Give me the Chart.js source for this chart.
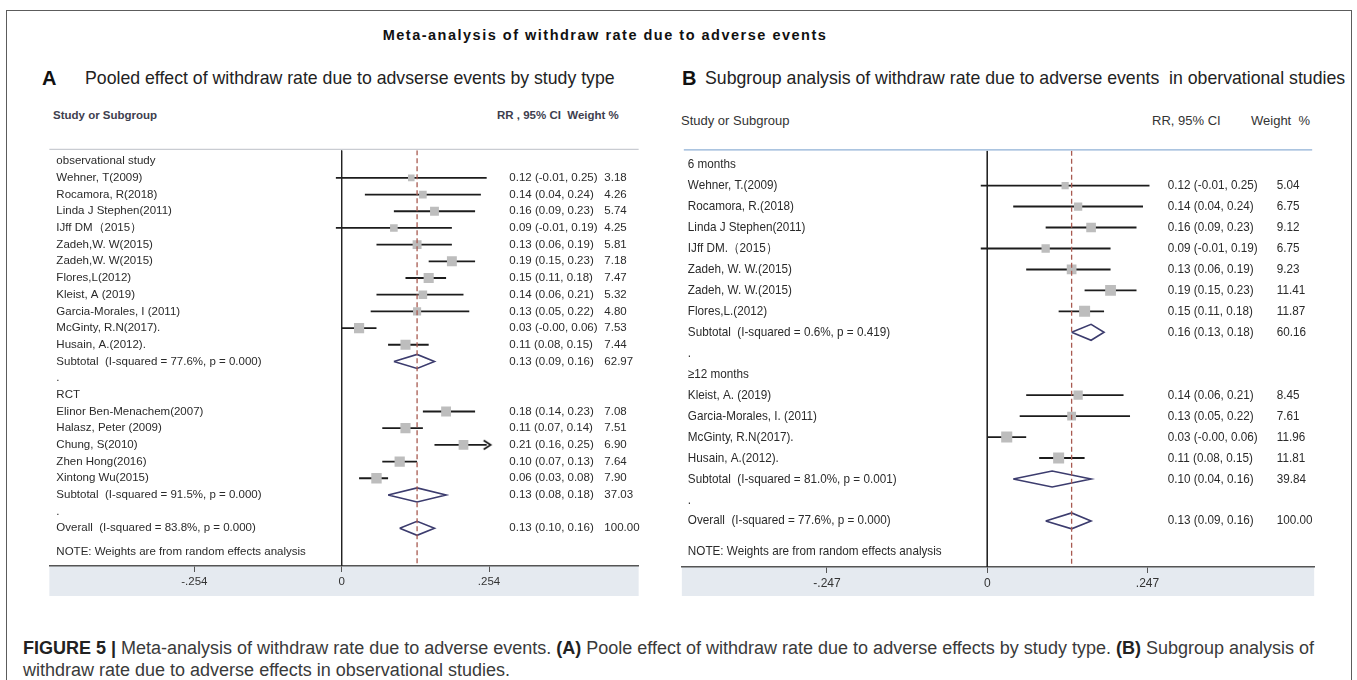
<!DOCTYPE html>
<html>
<head>
<meta charset="utf-8">
<script src="https://cdn.jsdelivr.net/npm/chart.js@4.4.1/dist/chart.umd.min.js"></script>
<style>
  body{margin:0;width:1357px;height:680px;overflow:hidden;background:#fff;position:relative;
       font-family:"Liberation Sans",Arial,Helvetica,sans-serif;color:#222}
  .abs{position:absolute;white-space:pre}
  #frame{position:absolute;left:6px;top:10px;width:1346px;height:720px;border:1.5px solid #5c5c5c;box-sizing:border-box}
  #title{left:0;width:1210px;top:26px;text-align:center;font-weight:bold;font-size:14.5px;line-height:18px;letter-spacing:1.5px;color:#111}
  .letter{font-weight:bold;font-size:20px;line-height:22px;top:67px;color:#111}
  .sub{font-size:17.7px;line-height:22px;top:67px;color:#222}
  .hdrA{font-weight:bold;font-size:11.5px;line-height:14px;top:108px;color:#3e3e4e}
  .hdrB{font-size:13px;line-height:16px;top:113px;color:#333}
  canvas{position:absolute}
  #caption{left:23px;top:637px;font-size:18px;line-height:22px;color:#3a3a3a}
  #caption b{color:#222}
</style>
</head>
<body>
<div id="frame"></div>
<div id="title" class="abs">Meta-analysis of withdraw rate due to adverse events</div>

<div class="abs letter" style="left:42px">A</div>
<div class="abs sub" style="left:85px">Pooled effect of withdraw rate due to advserse events by study type</div>
<div class="abs letter" style="left:682px">B</div>
<div class="abs sub" style="left:705px">Subgroup analysis of withdraw rate due to adverse events  in obervational studies</div>

<div class="abs hdrA" style="left:53px">Study or Subgroup</div>
<div class="abs hdrA" style="left:497px">RR , 95% CI  Weight %</div>
<div class="abs hdrB" style="left:681px">Study or Subgroup</div>
<div class="abs hdrB" style="left:1152px">RR, 95% CI</div>
<div class="abs hdrB" style="left:1251px">Weight  %</div>

<canvas id="panelA" width="604" height="453" style="left:42px;top:143px;width:604px;height:453px"></canvas>
<canvas id="panelB" width="648" height="453" style="left:674px;top:143px;width:648px;height:453px"></canvas>

<div id="caption" class="abs"><b>FIGURE 5 |</b> Meta-analysis of withdraw rate due to adverse events. <b>(A)</b> Poole effect of withdraw rate due to adverse effects by study type. <b>(B)</b> Subgroup analysis of
withdraw rate due to adverse effects in observational studies.</div>

<script>
// ---------- Panel A: pooled effect by study type ----------
const groupTitlesA = ["observational study", "RCT"];

const obsStudiesA = ["Wehner, T(2009)", "Rocamora, R(2018)", "Linda J Stephen(2011)", "IJff DM（2015）",
  "Zadeh,W. W(2015)", "Zadeh,W. W(2015)", "Flores,L(2012)", "Kleist, A (2019)",
  "Garcia-Morales, I (2011)", "McGinty, R.N(2017).", "Husain, A.(2012)."];
const obsRR_A     = [0.12, 0.14, 0.16, 0.09, 0.13, 0.19, 0.15, 0.14, 0.13, 0.03, 0.11];
const obsLow_A    = [-0.01, 0.04, 0.09, -0.01, 0.06, 0.15, 0.11, 0.06, 0.05, -0.00, 0.08];
const obsHigh_A   = [0.25, 0.24, 0.23, 0.19, 0.19, 0.23, 0.18, 0.21, 0.22, 0.06, 0.15];
const obsWeight_A = [3.18, 4.26, 5.74, 4.25, 5.81, 7.18, 7.47, 5.32, 4.80, 7.53, 7.44];

const rctStudiesA = ["Elinor Ben-Menachem(2007)", "Halasz, Peter (2009)", "Chung, S(2010)", "Zhen Hong(2016)", "Xintong Wu(2015)"];
const rctRR_A     = [0.18, 0.11, 0.21, 0.10, 0.06];
const rctLow_A    = [0.14, 0.07, 0.16, 0.07, 0.03];
const rctHigh_A   = [0.23, 0.14, 0.25, 0.13, 0.08];
const rctWeight_A = [7.08, 7.51, 6.90, 7.64, 7.90];
const rctCutHigh_A = [false, false, true, false, false];

const pooledLabelsA = ["Subtotal  (I-squared = 77.6%, p = 0.000)", "Subtotal  (I-squared = 91.5%, p = 0.000)",
  "Overall  (I-squared = 83.8%, p = 0.000)"];
const pooledRR_A     = [0.13, 0.13, 0.13];
const pooledLow_A    = [0.09, 0.08, 0.10];
const pooledHigh_A   = [0.16, 0.18, 0.16];
const pooledWeight_A = [62.97, 37.03, 100.00];

const xTicksA = [-0.254, 0, 0.254];

// ---------- Panel B: subgroups of observational studies ----------
const groupTitlesB = ["6 months", "≥12 months"];

const sixStudiesB = ["Wehner, T.(2009)", "Rocamora, R.(2018)", "Linda J Stephen(2011)", "IJff DM.（2015）",
  "Zadeh, W. W.(2015)", "Zadeh, W. W.(2015)", "Flores,L.(2012)"];
const sixRR_B     = [0.12, 0.14, 0.16, 0.09, 0.13, 0.19, 0.15];
const sixLow_B    = [-0.01, 0.04, 0.09, -0.01, 0.06, 0.15, 0.11];
const sixHigh_B   = [0.25, 0.24, 0.23, 0.19, 0.19, 0.23, 0.18];
const sixWeight_B = [5.04, 6.75, 9.12, 6.75, 9.23, 11.41, 11.87];

const longStudiesB = ["Kleist, A. (2019)", "Garcia-Morales, I. (2011)", "McGinty, R.N(2017).", "Husain, A.(2012)."];
const longRR_B     = [0.14, 0.13, 0.03, 0.11];
const longLow_B    = [0.06, 0.05, -0.00, 0.08];
const longHigh_B   = [0.21, 0.22, 0.06, 0.15];
const longWeight_B = [8.45, 7.61, 11.96, 11.81];

const pooledLabelsB = ["Subtotal  (I-squared = 0.6%, p = 0.419)", "Subtotal  (I-squared = 81.0%, p = 0.001)",
  "Overall  (I-squared = 77.6%, p = 0.000)"];
const pooledRR_B     = [0.16, 0.10, 0.13];
const pooledLow_B    = [0.13, 0.04, 0.09];
const pooledHigh_B   = [0.18, 0.16, 0.16];
const pooledWeight_B = [60.16, 39.84, 100.00];

const xTicksB = [-0.247, 0, 0.247];

const noteText = "NOTE: Weights are from random effects analysis";

// ---------- row assembly ----------
function studyRows(names, rr, lo, hi, w, cut) {
  return names.map((n, i) => ({ kind: "study", label: n, rr: rr[i], lo: lo[i], hi: hi[i], w: w[i], cut: cut ? cut[i] : false }));
}
function pooledRow(labels, rr, lo, hi, w, i) {
  return { kind: "pooled", label: labels[i], rr: rr[i], lo: lo[i], hi: hi[i], w: w[i] };
}

const rowsA = [
  { kind: "group", label: groupTitlesA[0] },
  ...studyRows(obsStudiesA, obsRR_A, obsLow_A, obsHigh_A, obsWeight_A),
  pooledRow(pooledLabelsA, pooledRR_A, pooledLow_A, pooledHigh_A, pooledWeight_A, 0),
  { kind: "dot", label: "." },
  { kind: "group", label: groupTitlesA[1] },
  ...studyRows(rctStudiesA, rctRR_A, rctLow_A, rctHigh_A, rctWeight_A, rctCutHigh_A),
  pooledRow(pooledLabelsA, pooledRR_A, pooledLow_A, pooledHigh_A, pooledWeight_A, 1),
  { kind: "dot", label: "." },
  pooledRow(pooledLabelsA, pooledRR_A, pooledLow_A, pooledHigh_A, pooledWeight_A, 2)
];

const rowsB = [
  { kind: "group", label: groupTitlesB[0] },
  ...studyRows(sixStudiesB, sixRR_B, sixLow_B, sixHigh_B, sixWeight_B),
  pooledRow(pooledLabelsB, pooledRR_B, pooledLow_B, pooledHigh_B, pooledWeight_B, 0),
  { kind: "dot", label: "." },
  { kind: "group", label: groupTitlesB[1] },
  ...studyRows(longStudiesB, longRR_B, longLow_B, longHigh_B, longWeight_B),
  pooledRow(pooledLabelsB, pooledRR_B, pooledLow_B, pooledHigh_B, pooledWeight_B, 1),
  { kind: "dot", label: "." },
  pooledRow(pooledLabelsB, pooledRR_B, pooledLow_B, pooledHigh_B, pooledWeight_B, 2)
];

// ---------- formatting helpers ----------
function f2(v) { return ((v < 0 || Object.is(v, -0)) ? "-" : "") + Math.abs(v).toFixed(2); }
function ciText(r) { return r.rr.toFixed(2) + " (" + f2(r.lo) + ", " + f2(r.hi) + ")"; }
function tickText(v) { return v === 0 ? "0" : (v < 0 ? "-" : "") + Math.abs(v).toFixed(3).replace(/^0/, ""); }

// open chevron used where a confidence interval runs past the axis
function chevron() {
  const c = document.createElement("canvas");
  c.width = 12; c.height = 12;
  const g = c.getContext("2d");
  g.strokeStyle = "#111"; g.lineWidth = 1.6;
  g.beginPath(); g.moveTo(3, 1.5); g.lineTo(10, 6); g.lineTo(3, 10.5); g.stroke();
  return c;
}

function drawText(ctx, s, x, y, sx) {
  ctx.save(); ctx.translate(x, y); ctx.scale(sx, 1); ctx.fillText(s, 0, 0); ctx.restore();
}

function buildForest(canvasId, rows, cfg) {
  const datasets = [];
  const overall = rows[rows.length - 1];

  // reference line at zero and dashed line at the overall estimate
  datasets.push({ data: [{ x: 0, y: cfg.yMin }, { x: 0, y: cfg.yMax }], showLine: true, pointRadius: 0,
    borderColor: "#222", borderWidth: 1 });
  datasets.push({ data: [{ x: overall.rr, y: cfg.yMin }, { x: overall.rr, y: cfg.yMax }], showLine: true, pointRadius: 0,
    borderColor: "#a85a50", borderWidth: 1.3, borderDash: [5, 3] });

  const sq = [], sqR = [], ctr = [], arrows = [];
  rows.forEach((r, i) => {
    if (r.kind === "study") {
      sq.push({ x: r.rr, y: i });
      sqR.push(cfg.sqK * Math.sqrt(r.w) / Math.SQRT2);
      ctr.push({ x: r.rr, y: i });
      if (r.cut) arrows.push({ x: r.hi, y: i });
    }
  });
  // weight boxes under the interval lines
  datasets.push({ data: sq, pointStyle: "rect", pointRadius: sqR, backgroundColor: "#bdbdbd", borderWidth: 0 });
  rows.forEach((r, i) => {
    if (r.kind === "study") {
      datasets.push({ data: [{ x: r.lo, y: i }, { x: r.hi, y: i }], showLine: true, pointRadius: 0,
        borderColor: "#1c1c1c", borderWidth: cfg.ciWidth });
    } else if (r.kind === "pooled") {
      const h = cfg.diamondH;
      datasets.push({ data: [{ x: r.lo, y: i }, { x: r.rr, y: i - h }, { x: r.hi, y: i }, { x: r.rr, y: i + h }, { x: r.lo, y: i }],
        showLine: true, pointRadius: 0, borderColor: "#3c3c6e", borderWidth: 1.6, borderJoinStyle: "miter", fill: false });
    }
  });
  datasets.push({ data: ctr, pointStyle: "rectRot", pointRadius: 2.8, backgroundColor: "#111", borderWidth: 0 });
  if (arrows.length) datasets.push({ data: arrows, pointStyle: chevron(), pointRadius: 6 });

  const bandAndHeader = {
    id: "bandAndHeader",
    beforeDraw(chart) {
      const { ctx, chartArea: a } = chart;
      ctx.save();
      ctx.fillStyle = "#e5eaf0";
      ctx.fillRect(a.left, a.bottom, a.right - a.left, chart.height - a.bottom);
      ctx.strokeStyle = cfg.headerLine; ctx.lineWidth = 1.2;
      ctx.beginPath(); ctx.moveTo(a.left + cfg.hdrInset, a.top - 1); ctx.lineTo(a.right - cfg.hdrInset, a.top - 1); ctx.stroke();
      ctx.restore();
    }
  };

  const columns = {
    id: "columns",
    afterDraw(chart) {
      const ctx = chart.ctx, ys = chart.scales.y, L = chart.chartArea.left;
      ctx.save();
      ctx.fillStyle = "#2a2a2a";
      ctx.textBaseline = "middle";
      ctx.textAlign = "left";
      ctx.font = cfg.font;
      rows.forEach((r, i) => {
        const py = ys.getPixelForValue(i);
        drawText(ctx, r.label, L + cfg.colLabel, py, cfg.sx);
        if (r.rr !== undefined) {
          drawText(ctx, ciText(r), L + cfg.colCI, py, cfg.sx);
          drawText(ctx, r.w.toFixed(2), L + cfg.colW, py, cfg.sx);
        }
      });
      drawText(ctx, noteText, L + cfg.colLabel, ys.getPixelForValue(cfg.noteRow), cfg.sx);
      ctx.restore();
    }
  };

  return new Chart(document.getElementById(canvasId), {
    type: "scatter",
    data: { datasets },
    options: {
      responsive: false, devicePixelRatio: 1, animation: false,
      layout: { padding: { top: 2, left: 0, right: 0, bottom: 0 } },
      plugins: { legend: { display: false }, tooltip: { enabled: false } },
      elements: { line: { tension: 0 } },
      scales: {
        x: {
          type: "linear", min: cfg.xMin, max: cfg.xMax,
          afterBuildTicks: s => { s.ticks = cfg.ticks.map(v => ({ value: v })); },
          afterFit: s => { s.height = cfg.axisH; },
          border: { display: true, color: "#555", width: 1.5 },
          grid: { display: true, drawOnChartArea: false, drawTicks: true, tickLength: 6, color: "#555", lineWidth: 1 },
          ticks: { padding: 3, color: "#333", font: { family: "'Liberation Sans', Arial, sans-serif", size: cfg.tickSize },
                   callback: v => tickText(v), maxRotation: 0, autoSkip: false }
        },
        y: { type: "linear", display: false, reverse: true, min: cfg.yMin, max: cfg.yMax }
      }
    },
    plugins: [bandAndHeader, columns]
  });
}

buildForest("panelA", rowsA, {
  xMin: -0.504, xMax: 0.512, yMin: -0.65, yMax: 24.26, ticks: xTicksA, axisH: 30, tickSize: 11.5,
  sqK: 3.7, ciWidth: 1.8, diamondH: 0.42, noteRow: 23.4,
  font: "11.5px 'Liberation Sans', Arial, sans-serif", sx: 1,
  colLabel: 7, colCI: 460, colW: 555, headerLine: "#c9ccd2", hdrInset: 0
});

buildForest("panelB", rowsB, {
  xMin: -0.4707, xMax: 0.5038, yMin: -0.66, yMax: 19.2, ticks: xTicksB, axisH: 29, tickSize: 12,
  sqK: 3.2, ciWidth: 1.9, diamondH: 0.38, noteRow: 18.45,
  font: "13px 'Liberation Sans', Arial, sans-serif", sx: 0.9,
  colLabel: 6, colCI: 486, colW: 595, headerLine: "#8fb0d6", hdrInset: 2
});
</script>
</body>
</html>
